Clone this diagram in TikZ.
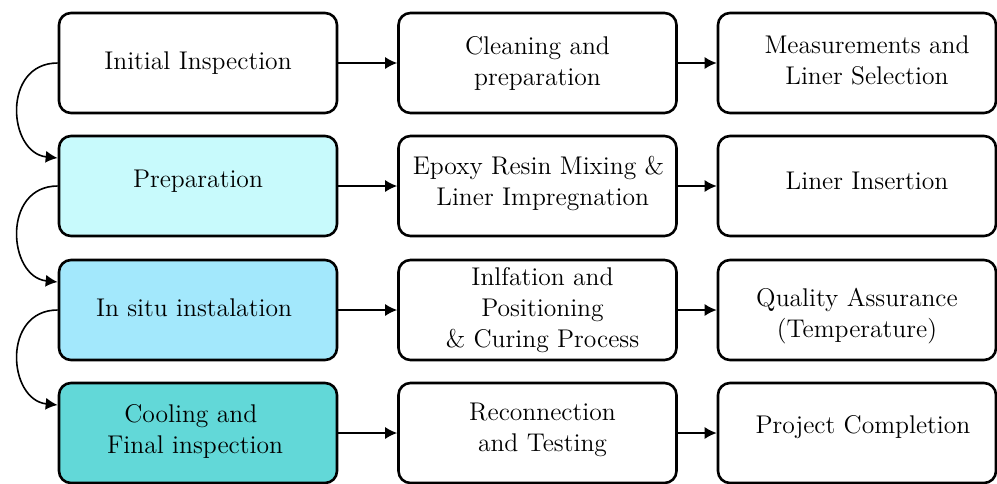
\documentclass[tikz,border=0pt]{standalone}
\usetikzlibrary{arrows.meta}
\definecolor{prepfill}{RGB}{200,250,252}
\definecolor{situfill}{RGB}{163,232,252}
\definecolor{coolfill}{RGB}{98,216,216}
\newcommand{\lsp}{\hbox to 4.2pt{}}
\begin{document}
\begin{tikzpicture}[x=0.5pt,y=-0.5pt,
  stepbox/.style={draw,line width=1.3pt,rounded corners=6pt,minimum width=139pt,minimum height=50pt,inner sep=0pt},
  steptext/.style={align=center,inner sep=0pt,font=\fontsize{12.8}{15.5}\selectfont},
  flow/.style={-{Latex[length=6pt,width=6pt]},line width=0.8pt}]
\useasboundingbox (0,0) rectangle (997,483);
% boxes
\node[stepbox] (a1) at (198,63) {};
\node[stepbox] (b1) at (537.5,63) {};
\node[stepbox] (c1) at (857,63) {};
\node[stepbox,fill=prepfill] (a2) at (198,186) {};
\node[stepbox] (b2) at (537.5,186) {};
\node[stepbox] (c2) at (857,186) {};
\node[stepbox,fill=situfill] (a3) at (198,310) {};
\node[stepbox] (b3) at (537.5,310) {};
\node[stepbox] (c3) at (857,310) {};
\node[stepbox,fill=coolfill] (a4) at (198,433) {};
\node[stepbox] (b4) at (537.5,433) {};
\node[stepbox] (c4) at (857,433) {};
% texts
\node[steptext] (ta1) at (a1.center) {Initial Inspection};
\node[steptext] (tb1) at (b1.center) {Cleaning and\\preparation};
\node[steptext] (tc1) at ([xshift=5pt,yshift=1.5pt]c1.center) {Measurements and\\Liner Selection};
\node[steptext] (ta2) at ([yshift=2.5pt]a2.center) {Preparation};
\node[steptext] (tb2) at ([xshift=0.5pt,yshift=1.5pt]b2.center) {Epoxy Resin Mixing \&\\\lsp Liner Impregnation};
\node[steptext] (tc2) at ([xshift=5pt,yshift=2.5pt]c2.center) {Liner Insertion};
\node[steptext] (ta3) at ([xshift=-2pt,yshift=1pt]a3.center) {In situ instalation};
\node[steptext] (tb3) at ([xshift=2.5pt]b3.center) {Inlfation and\\Positioning\\\& Curing Process};
\node[steptext] (tc3) at ([yshift=-3pt]c3.center) {Quality Assurance\\(Temperature)};
\node[steptext] (ta4) at ([xshift=-1.5pt,yshift=1pt]a4.center) {Cooling and\lsp\\Final inspection};
\node[steptext] (tb4) at ([xshift=2.5pt,yshift=1.75pt]b4.center) {Reconnection\\and Testing};
\node[steptext] (tc4) at ([xshift=3pt,yshift=3pt]c4.center) {Project Completion};
% connectors
\foreach \r in {1,2,3,4}{
  \draw[flow] (a\r.east) -- (b\r.west);
  \draw[flow] (b\r.east) -- (c\r.west);
}
\draw[flow] (a1.west) .. controls +(-28pt,0) and +(-25pt,2.5pt) .. ([yshift=14pt]a2.west);
\draw[flow] (a2.west) .. controls +(-28pt,0) and +(-25pt,2.5pt) .. ([yshift=14pt]a3.west);
\draw[flow] (a3.west) .. controls +(-28pt,0) and +(-25pt,2.5pt) .. ([yshift=14pt]a4.west);
\end{tikzpicture}
\end{document}
